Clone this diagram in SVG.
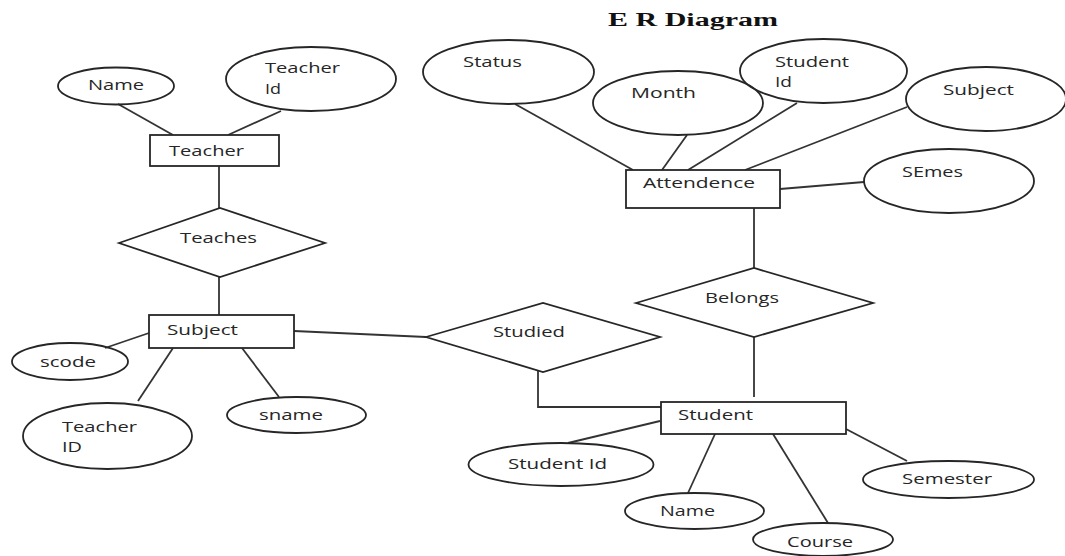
<svg xmlns="http://www.w3.org/2000/svg" width="1065" height="556" viewBox="0 0 1065 556">
<style>
  .bg { fill: #ffffff; }
  .shape { fill: none; stroke: #262626; stroke-width: 1.8; }
  .box { fill: #ffffff; stroke: #262626; stroke-width: 1.8; }
  .conn { fill: none; stroke: #333333; stroke-width: 1.8; }
  .lbl { font-family: "Open Sans", "Noto Sans", "DejaVu Sans", sans-serif; font-size: 15px; fill: #262626; }
  .title { font-family: "Liberation Serif", "Times New Roman", serif; font-size: 18px; font-weight: bold; fill: #111111; }
</style>
<rect class="bg" x="0" y="0" width="1065" height="556"/>
<text class="title" x="608" y="26" textLength="170" lengthAdjust="spacingAndGlyphs">E R Diagram</text>

<g id="connectors">
  <line class="conn" x1="118" y1="104" x2="173" y2="135"/>
  <line class="conn" x1="281" y1="111" x2="228" y2="135"/>
  <line class="conn" x1="219" y1="166" x2="219" y2="208"/>
  <line class="conn" x1="219" y1="277" x2="219" y2="315"/>
  <line class="conn" x1="105" y1="348" x2="149" y2="333"/>
  <line class="conn" x1="138" y1="401" x2="173" y2="348"/>
  <line class="conn" x1="242" y1="348" x2="279" y2="397"/>
  <line class="conn" x1="294" y1="331" x2="426" y2="337"/>
  <polyline class="conn" points="538,371 538,407 661,407"/>
  <line class="conn" x1="515" y1="104" x2="633" y2="170"/>
  <line class="conn" x1="687" y1="135" x2="662" y2="170"/>
  <line class="conn" x1="797" y1="103" x2="688" y2="170"/>
  <line class="conn" x1="907" y1="107" x2="745" y2="170"/>
  <line class="conn" x1="780" y1="189" x2="864" y2="182"/>
  <line class="conn" x1="754" y1="208" x2="754" y2="268"/>
  <line class="conn" x1="754" y1="337" x2="754" y2="397"/>
  <line class="conn" x1="660" y1="421" x2="568" y2="443"/>
  <line class="conn" x1="715" y1="434" x2="688" y2="493"/>
  <line class="conn" x1="773" y1="434" x2="828" y2="523"/>
  <line class="conn" x1="846" y1="429" x2="907" y2="461"/>
</g>

<g id="teacher">
  <rect class="box" x="150" y="135" width="129" height="31"/>
  <text class="lbl" x="169" y="156" textLength="75" lengthAdjust="spacingAndGlyphs">Teacher</text>
</g>
<g id="teacher-name">
  <ellipse class="shape" cx="116" cy="86" rx="58" ry="18.5"/>
  <text class="lbl" x="88" y="90" textLength="56" lengthAdjust="spacingAndGlyphs">Name</text>
</g>
<g id="teacher-id">
  <ellipse class="shape" cx="311" cy="79" rx="85" ry="32"/>
  <text class="lbl" x="265" y="73" textLength="75" lengthAdjust="spacingAndGlyphs">Teacher</text>
  <text class="lbl" x="265" y="94" textLength="16" lengthAdjust="spacingAndGlyphs">Id</text>
</g>
<g id="teaches">
  <polygon class="shape" points="119,243 220,208 325,243 220,277"/>
  <text class="lbl" x="180" y="243" textLength="77" lengthAdjust="spacingAndGlyphs">Teaches</text>
</g>
<g id="subject">
  <rect class="box" x="149" y="315" width="145" height="33"/>
  <text class="lbl" x="167" y="335" textLength="71" lengthAdjust="spacingAndGlyphs">Subject</text>
</g>
<g id="scode">
  <ellipse class="shape" cx="70" cy="361.5" rx="58" ry="18.5"/>
  <text class="lbl" x="40" y="367" textLength="56" lengthAdjust="spacingAndGlyphs">scode</text>
</g>
<g id="subject-teacher-id">
  <ellipse class="shape" cx="107.5" cy="436" rx="84.5" ry="33"/>
  <text class="lbl" x="62" y="432" textLength="75" lengthAdjust="spacingAndGlyphs">Teacher</text>
  <text class="lbl" x="62" y="452" textLength="20" lengthAdjust="spacingAndGlyphs">ID</text>
</g>
<g id="sname">
  <ellipse class="shape" cx="296.5" cy="415" rx="69.5" ry="18"/>
  <text class="lbl" x="259" y="420" textLength="64" lengthAdjust="spacingAndGlyphs">sname</text>
</g>
<g id="studied">
  <polygon class="shape" points="426,337 543,303 660,337 543,372"/>
  <text class="lbl" x="493" y="337" textLength="72" lengthAdjust="spacingAndGlyphs">Studied</text>
</g>
<g id="attendence">
  <rect class="box" x="626" y="170" width="154" height="38"/>
  <text class="lbl" x="643" y="188" textLength="112" lengthAdjust="spacingAndGlyphs">Attendence</text>
</g>
<g id="status">
  <ellipse class="shape" cx="508.5" cy="72" rx="85.5" ry="32"/>
  <text class="lbl" x="463" y="67" textLength="59" lengthAdjust="spacingAndGlyphs">Status</text>
</g>
<g id="month">
  <ellipse class="shape" cx="678" cy="103" rx="85" ry="32"/>
  <text class="lbl" x="631" y="98" textLength="65" lengthAdjust="spacingAndGlyphs">Month</text>
</g>
<g id="att-student-id">
  <ellipse class="shape" cx="823.5" cy="71" rx="83.5" ry="32"/>
  <text class="lbl" x="775" y="67" textLength="74" lengthAdjust="spacingAndGlyphs">Student</text>
  <text class="lbl" x="775" y="87" textLength="17" lengthAdjust="spacingAndGlyphs">Id</text>
</g>
<g id="att-subject">
  <ellipse class="shape" cx="986" cy="99" rx="80" ry="32"/>
  <text class="lbl" x="943" y="95" textLength="71" lengthAdjust="spacingAndGlyphs">Subject</text>
</g>
<g id="semes">
  <ellipse class="shape" cx="949" cy="181" rx="85" ry="32"/>
  <text class="lbl" x="902" y="177" textLength="61" lengthAdjust="spacingAndGlyphs">SEmes</text>
</g>
<g id="belongs">
  <polygon class="shape" points="636,303 754,268 873,303 754,337"/>
  <text class="lbl" x="705" y="303" textLength="74" lengthAdjust="spacingAndGlyphs">Belongs</text>
</g>
<g id="student">
  <rect class="box" x="661" y="402" width="185" height="32"/>
  <text class="lbl" x="678" y="420" textLength="75" lengthAdjust="spacingAndGlyphs">Student</text>
</g>
<g id="student-id">
  <ellipse class="shape" cx="561" cy="464.5" rx="92.5" ry="21.5"/>
  <text class="lbl" x="508" y="469" textLength="99" lengthAdjust="spacingAndGlyphs">Student Id</text>
</g>
<g id="student-name">
  <ellipse class="shape" cx="694.5" cy="511" rx="69.5" ry="18"/>
  <text class="lbl" x="660" y="516" textLength="55" lengthAdjust="spacingAndGlyphs">Name</text>
</g>
<g id="course">
  <ellipse class="shape" cx="823" cy="539.5" rx="70" ry="16.5"/>
  <text class="lbl" x="787" y="547" textLength="66" lengthAdjust="spacingAndGlyphs">Course</text>
</g>
<g id="semester">
  <ellipse class="shape" cx="948.5" cy="479.5" rx="85.5" ry="18.5"/>
  <text class="lbl" x="902" y="484" textLength="90" lengthAdjust="spacingAndGlyphs">Semester</text>
</g>
</svg>
